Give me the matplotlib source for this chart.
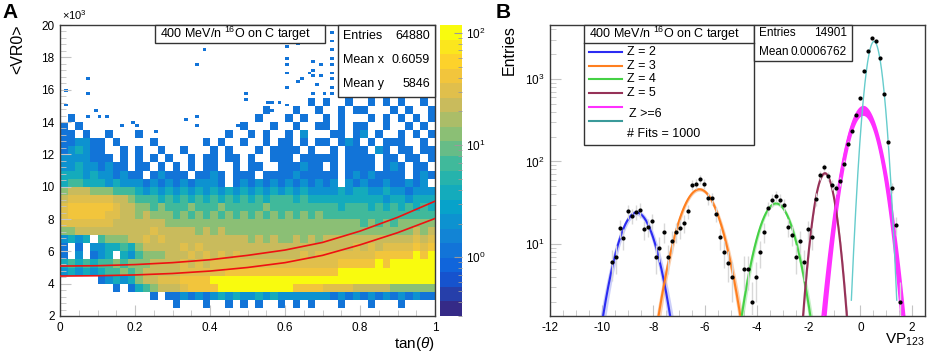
import numpy as np
import matplotlib
matplotlib.use("Agg")
import matplotlib.pyplot as plt
from matplotlib.colors import LinearSegmentedColormap, ListedColormap, LogNorm
from matplotlib.patches import Rectangle
from matplotlib.lines import Line2D
from matplotlib.ticker import MultipleLocator, FuncFormatter, LogLocator

plt.rcParams["font.family"] = ["Liberation Sans", "DejaVu Sans"]
plt.rcParams["mathtext.fontset"] = "custom"
plt.rcParams["mathtext.rm"] = "Liberation Sans"
plt.rcParams["mathtext.it"] = "Liberation Sans:italic"
plt.rcParams["mathtext.bf"] = "Liberation Sans:bold"

# ---------------- panel A: <VR0> vs tan(theta), 2D histogram ----------------
# coarse density map, top row first (y 15000-15500 ... 2500-3000)
# cell = 0.02 in x, 500 in y; code -> typical bin content
density_rows = [
    "..... ..... ..... ..... ..... ..... ...1. 1..1. .1.1. 1..1.",
    "..... ..... ..... ..... ..... ..1.. .1..1 ..1.1 1...1 .1..1",
    ".1... ..... ..... ..... ..... .1... 1.1.. 1.1.. .1.1. 1.1.1",
    "1.1.. ..... ..... ..... ....1 ...1. .1..1 1.1.1 1..1. .1.1.",
    "11.1. .1... 1.... ..... ..1.. 1.1.. 1.2.. .11.1 2.1.. 1.1.1",
    "11221 1.1.. ..1.. ....1 .1..1 ..1.1 1.1.1 1.121 .1.11 1..1.",
    "12321 1..1. 1..1. .1... 1.1.. .1.11 11.1. .1.11 1.21. 11.11",
    "22221 11.1. 1.1.1 ..1.1 1.11. 1..11 1.111 11.11 11.11 .11.1",
    "22322 1211. 11.1. 1.1.1 1..1. 11..1 11211 .1.11 11.12 1.11.",
    "33323 22121 1.121 11.11 21.11 1.111 12111 11.12 12111 1.121",
    "34433 32322 21212 12122 21.12 12121 21212 12.21 21121 1212.",
    "56665 55444 32323 23232 32323 23232 32322 22323 32232 21222",
    "67777 77665 44434 34343 43434 34344 43433 33333 33323 32333",
    "78888 88766 55454 44544 45444 44544 44444 44344 43434 34343",
    "78888 87766 56555 45454 54545 45454 54545 44444 44444 44444",
    "77777 77666 66665 55555 55555 55555 55555 55555 45454 55555",
    "55666 66666 66766 66656 56555 55555 55555 55555 55555 55656",
    "2323. 45556 67676 66666 66666 56565 56565 66666 66666 66767",
    "1.1.2 23343 56666 67676 66666 66666 66666 66667 67677 77878",
    "1.2.1 23.32 45556 66767 67676 66666 66767 77777 77888 88989",
    "34343 44545 55666 67676 77777 77777 77777 77888 88989 99999",
    "23232 34454 56666 67777 77888 88888 88888 88999 99999 99999",
    "..... 12323 56677 78888 99999 99999 99999 99999 99999 99999",
    "..... ..1.1 34566 67888 89999 99999 98888 77776 66665 55555",
    "..... ..... ..1.1 12121 23232 23232 22222 21212 12121 21211",
    "..... ..... ..... 1...1 ..1.1 .1..1 .1.1. ..1.. .1... 1....",
]
level_counts = {"1": 1, "2": 2, "3": 4, "4": 7, "5": 12, "6": 20, "7": 35, "8": 45, "9": 95}
map_y_bottom = 2500
map_y_step = 500

# isolated single-entry bins in the sparse upper part
sparse_x = [0.014, 0.075, 0.075, 0.014, 0.094, 0.076, 0.100, 0.126, 0.160, 0.195,
            0.208, 0.255, 0.335, 0.366, 0.366, 0.385, 0.366, 0.476, 0.493, 0.493,
            0.555, 0.570, 0.585, 0.600, 0.560, 0.604, 0.604, 0.635, 0.600, 0.604,
            0.609, 0.644, 0.635, 0.675, 0.675, 0.724, 0.724, 0.724, 0.724, 0.724,
            0.724, 0.724, 0.724, 0.724, 0.674, 0.697, 0.666, 0.700, 0.688, 0.670,
            0.706]
sparse_y = [15960, 16680, 15800, 15070, 14700, 14300, 14300, 14300, 13800, 14000,
            13700, 13500, 14100, 14350, 13800, 18500, 17600, 13800, 15700, 15400,
            15300, 15150, 15250, 15100, 14700, 16200, 18700, 18800, 17970, 17600,
            17050, 16700, 16400, 17200, 16900, 19600, 19000, 18500, 17900, 17500,
            17000, 16600, 16100, 15800, 17700, 17500, 17100, 16900, 16300, 15800,
            15800]

# graphical cut lines (red)
cut_x = [0.0, 0.1, 0.2, 0.3, 0.4, 0.5, 0.6, 0.7, 0.8, 0.9, 1.0]
cut_upper = [5090, 5110, 5180, 5300, 5480, 5750, 6080, 6550, 7250, 8100, 9100]
cut_lower = [4470, 4490, 4540, 4630, 4780, 5000, 5300, 5750, 6400, 7150, 8030]

# ---------------- panel B: VP123 distribution with fits ----------------
vp_x = [-9.61, -9.46, -9.30, -9.16, -8.99, -8.83, -8.67, -8.52, -8.36, -8.22,
        -8.06, -7.91, -7.77, -7.61, -7.43, -7.28, -7.14, -6.97, -6.83, -6.67,
        -6.52, -6.36, -6.21, -6.05, -5.90, -5.74, -5.59, -5.43, -5.28, -5.12,
        -4.97, -4.50, -4.35, -4.19, -4.04, -3.88, -3.72, -3.57, -3.42, -3.26,
        -3.11, -2.96, -2.80, -2.65, -2.49, -2.34, -2.18, -2.01, -1.87, -1.72,
        -1.56, -1.41, -1.25, -1.10, -0.94, -0.79, -0.63, -0.48, -0.32, -0.17,
        0.00, 0.15, 0.31, 0.46, 0.62, 0.77, 0.93, 1.08, 1.24, 1.39, 1.55]
vp_n = [6.0, 7.0, 15.8, 11.9, 25, 22, 24.6, 26, 15.2, 16,
        19, 7, 9, 14, 7, 11, 14, 15.5, 18, 25,
        52, 54, 61, 54, 36, 36, 23, 12, 8, 5.9,
        4, 5, 5, 2, 4, 8, 14, 27, 34, 38,
        34, 30, 16, 13, 7, 11, 6, 15, 12, 35,
        68, 85, 66, 52, 47, 58, 94, 164, 231, 367,
        584, 1260, 2200, 3130, 2910, 1780, 659, 173, 48, 17, 2]

fit_labels = ["Z = 2", "Z = 3", "Z = 4", "Z = 5", "", ""]
fit_colors = ["#2b2bf2", "#ff7f1f", "#45d145", "#963258", "#ff30ff", "#66cccc"]
fit_band_colors = ["#aab0f5", "#f8b27a", "#a6e6a6", "#b56a86", "#ff30ff", "#66cccc"]
fit_amp = [24, 46, 31, 72, 420, 2850]
fit_mean = [-8.65, -6.22, -3.26, -1.37, 0.10, 0.53]
fit_sigma = [0.54, 0.595, 0.53, 0.30, 0.45, 0.231]
fit_amp_spread = [0.08, 0.05, 0.05, 0.04, 0.14, 0.0]
fit_sigma_spread = [0.04, 0.03, 0.03, 0.01, 0.025, 0.0]


def bird_cmap(n=20):
    stops = [0.0, 0.125, 0.25, 0.375, 0.5, 0.625, 0.75, 0.875, 1.0]
    r = [0.2082, 0.0592, 0.0780, 0.0232, 0.1802, 0.5301, 0.8186, 0.9956, 0.9764]
    g = [0.1664, 0.3599, 0.5041, 0.6419, 0.7178, 0.7492, 0.7328, 0.7862, 0.9832]
    b = [0.5293, 0.8684, 0.8385, 0.7914, 0.6425, 0.4662, 0.3499, 0.1968, 0.0539]
    smooth = LinearSegmentedColormap.from_list("bird", list(zip(stops, zip(r, g, b))))
    return ListedColormap(smooth(np.linspace(0, 1, n)))


def box(ax, x0, y0, x1, y1):
    ax.add_patch(Rectangle((x0, y0), x1 - x0, y1 - y0, transform=ax.transAxes,
                           facecolor="white", edgecolor="#333333", lw=1.0,
                           zorder=5, clip_on=False))


def style_axes(ax):
    for s in ax.spines.values():
        s.set_color("#3a3a3a")
        s.set_linewidth(1.0)
    ax.tick_params(which="both", direction="in", color="#c4c4c4", labelsize=8.5,
                   top=False, right=False, pad=4)
    ax.tick_params(which="major", length=8, width=0.8)
    ax.tick_params(which="minor", length=4, width=0.6)


def gauss(x, a, m, s):
    return a * np.exp(-0.5 * ((x - m) / s) ** 2)


fig = plt.figure(figsize=(9.27, 3.54), dpi=100)
W, H = 927.0, 354.0

# ---------------- panel A ----------------
axA = fig.add_axes([60 / W, 38 / H, 375 / W, 291 / H])
cax = fig.add_axes([440 / W, 38 / H, 22 / W, 291 / H])
cmap = bird_cmap(20)
norm = LogNorm(vmin=0.3, vmax=118)

counts = np.array([[level_counts.get(c, 0) for c in row.replace(" ", "")]
                   for row in density_rows][::-1], dtype=float)
x_edges = np.linspace(0, 1, counts.shape[1] + 1)
y_edges = map_y_bottom + map_y_step * np.arange(counts.shape[0] + 1)
mesh = axA.pcolormesh(x_edges, y_edges, np.ma.masked_equal(counts, 0),
                      cmap=cmap, norm=norm, zorder=1)
axA.hist2d(sparse_x, sparse_y, bins=[100, 100], range=[[0, 1], [2000, 20000]],
           cmin=1, cmap=cmap, norm=norm, zorder=1)

axA.plot(cut_x, cut_upper, color="#ee1111", lw=1.2, zorder=3)
axA.plot(cut_x, cut_lower, color="#ee1111", lw=1.2, zorder=3)

axA.set_xlim(0, 1)
axA.set_ylim(2000, 20000)
axA.xaxis.set_major_locator(MultipleLocator(0.2))
axA.xaxis.set_minor_locator(MultipleLocator(0.05))
axA.yaxis.set_major_locator(MultipleLocator(2000))
axA.yaxis.set_minor_locator(MultipleLocator(400))
axA.xaxis.set_major_formatter(FuncFormatter(lambda v, p: f"{v:g}"))
axA.yaxis.set_major_formatter(FuncFormatter(lambda v, p: f"{v / 1000:g}"))
style_axes(axA)
axA.text(0.006, 1.012, r"$\times$10$^{3}$", transform=axA.transAxes, fontsize=8,
         ha="left", va="bottom")
axA.set_ylabel("<VR0>", fontsize=11.5, loc="top")
axA.yaxis.set_label_coords(-0.093, 1.0)
axA.set_xlabel(r"tan($\theta$)", fontsize=11, loc="right")
axA.xaxis.set_label_coords(1.0, -0.066)

box(axA, 0.253, 0.938, 0.707, 1.0)
axA.text(0.267, 0.969, r"400 MeV/n $^{16}$O on C target", transform=axA.transAxes,
         fontsize=9, va="center", ha="left", zorder=6)
box(axA, 0.741, 0.753, 1.0, 1.0)
for yy, lab, val in [(0.962, "Entries", "64880"), (0.880, "Mean x", "0.6059"),
                     (0.797, "Mean y", "5846")]:
    axA.text(0.755, yy, lab, transform=axA.transAxes, fontsize=9, va="center", zorder=6)
    axA.text(0.987, yy, val, transform=axA.transAxes, fontsize=9, va="center",
             ha="right", zorder=6)

cb = fig.colorbar(mesh, cax=cax)
cb.outline.set_visible(False)
cb.set_ticks([1, 10, 100])
cax.tick_params(which="both", direction="in", color="#9a9a9a", labelsize=8.5, pad=3)
cax.tick_params(which="major", length=6)
cax.tick_params(which="minor", length=3)

# ---------------- panel B ----------------
axB = fig.add_axes([550 / W, 38 / H, 375 / W, 291 / H])
axB.set_yscale("log")
axB.set_xlim(-12, 2.5)
axB.set_ylim(1.34, 4500)

vx = np.array(vp_x)
vn = np.array(vp_n, dtype=float)
axB.errorbar(vx, vn, yerr=np.sqrt(vn), fmt="o", ms=2.0, color="black",
             ecolor="#d8d8d8", elinewidth=1.0, capsize=0, zorder=4)

for i in range(len(fit_amp)):
    a, m, s = fit_amp[i], fit_mean[i], fit_sigma[i]
    xs = np.linspace(m - 3.8 * s, m + 3.8 * s, 400)
    lo = gauss(xs, a * (1 - fit_amp_spread[i]), m, s - fit_sigma_spread[i])
    hi = gauss(xs, a * (1 + fit_amp_spread[i]), m, s + fit_sigma_spread[i])
    if fit_sigma_spread[i] > 0:
        alpha = 1.0 if i == 4 else 0.6
        axB.fill_between(xs, lo, hi, color=fit_band_colors[i], alpha=alpha, lw=0, zorder=2)
    axB.plot(xs, gauss(xs, a, m, s), color=fit_colors[i],
             lw=1.0 if i == 5 else 1.5, zorder=3)

axB.xaxis.set_major_locator(MultipleLocator(2))
axB.xaxis.set_minor_locator(MultipleLocator(0.5))
axB.yaxis.set_major_locator(LogLocator(base=10, numticks=10))
axB.yaxis.set_minor_locator(LogLocator(base=10, subs=np.arange(2, 10), numticks=20))
axB.xaxis.set_major_formatter(FuncFormatter(lambda v, p: f"{v:g}"))
style_axes(axB)
axB.set_ylabel("Entries", fontsize=11.5, loc="top")
axB.yaxis.set_label_coords(-0.088, 1.0)
axB.set_xlabel(r"VP$_{123}$", fontsize=11, loc="right")
axB.xaxis.set_label_coords(1.0, -0.055)

# legend / title box
box(axB, 0.0907, 0.588, 0.544, 1.0)
axB.plot([0.0907, 0.544], [0.938, 0.938], transform=axB.transAxes, color="#333333",
         lw=1.0, zorder=6, clip_on=False)
axB.text(0.104, 0.969, r"400 MeV/n $^{16}$O on C target", transform=axB.transAxes,
         fontsize=9, va="center", zorder=6)
leg_line_y = [0.907, 0.859, 0.814, 0.766, 0.718, 0.670]
for i, yy in enumerate(leg_line_y):
    axB.add_line(Line2D([0.104, 0.192], [yy, yy], transform=axB.transAxes,
                        color=fit_colors[i] if i != 5 else "#3a9a9a", lw=1.5, zorder=6))
    if fit_labels[i]:
        axB.text(0.205, yy, fit_labels[i], transform=axB.transAxes, fontsize=9,
                 va="center", zorder=6)
axB.text(0.211, 0.695, "Z >=6", transform=axB.transAxes, fontsize=9, va="center", zorder=6)
axB.text(0.205, 0.625, "# Fits = 1000", transform=axB.transAxes, fontsize=9,
         va="center", zorder=6)

box(axB, 0.544, 0.876, 0.805, 1.0)
for yy, lab, val in [(0.973, "Entries", "14901"), (0.907, "Mean", "0.0006762")]:
    axB.text(0.557, yy, lab, transform=axB.transAxes, fontsize=8.5, va="center", zorder=6)
    axB.text(0.792, yy, val, transform=axB.transAxes, fontsize=8.5, va="center",
             ha="right", zorder=6)

fig.text(2 / W, 1 - 3 / H, "A", fontsize=15, fontweight="bold", va="top", ha="left")
fig.text(496 / W, 1 - 3 / H, "B", fontsize=15, fontweight="bold", va="top", ha="left")

fig.savefig("out.png", dpi=100)
